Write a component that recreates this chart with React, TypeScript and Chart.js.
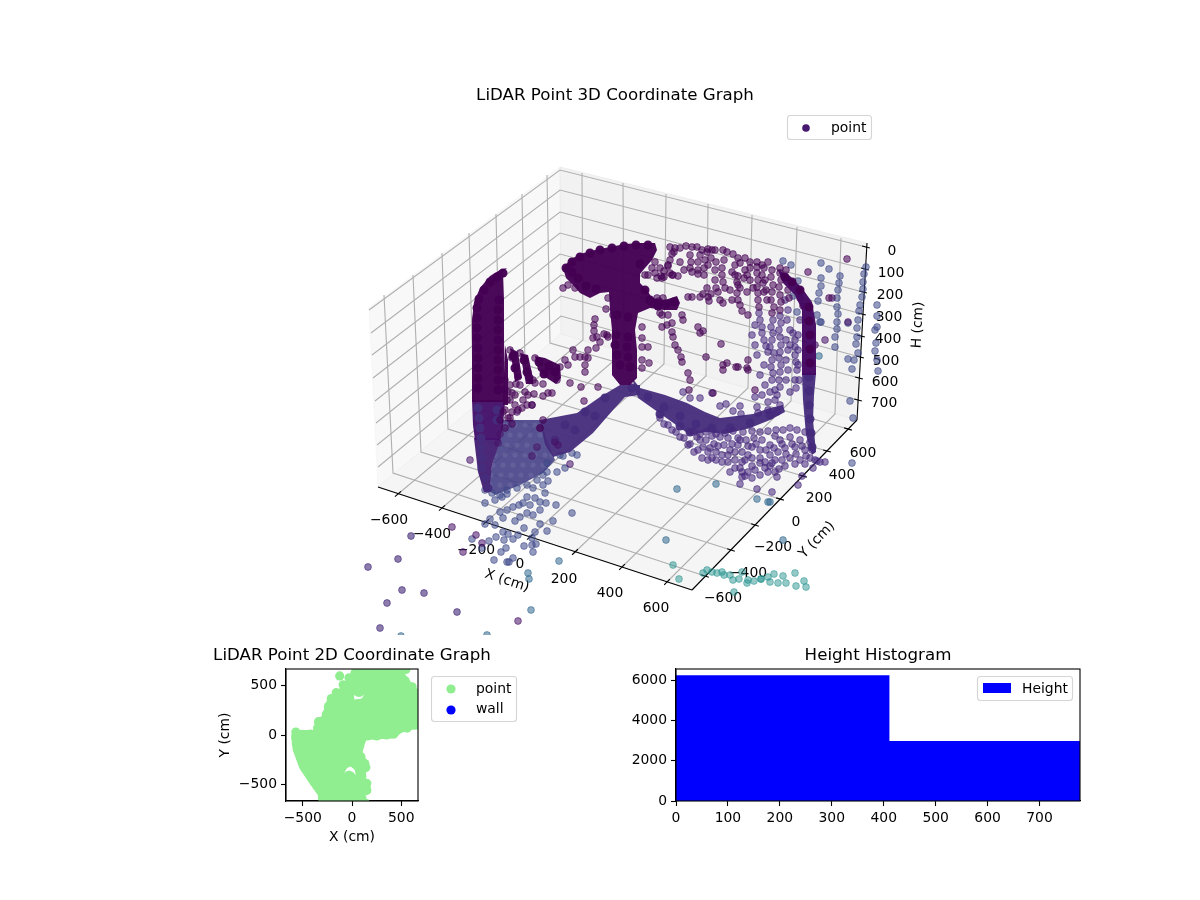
import { useEffect, useRef } from "react"
import { Chart, registerables } from "chart.js"

Chart.register(...registerables)

const FONT = "DejaVu Sans"

// 3D panel: points
const coreUpper = [
  [566, 268], [572, 262], [580, 257], [590, 253], [600, 250], [612, 248], [624, 246], [636, 245], [648, 245], [572, 272],
  [578, 278], [586, 286], [596, 289], [640, 264], [645, 290], [650, 300], [658, 306], [666, 304], [674, 302],
  [617, 315], [628, 317], [616, 335], [628, 337], [615, 345], [627, 347], [617, 355], [628, 357], [620, 365], [630, 367],
  [503, 273], [497, 277], [490, 282], [484, 290], [479, 299], [499, 300], [477, 308], [498, 310], [477, 318], [498, 320],
  [477, 328], [498, 330], [477, 338], [498, 340], [478, 348], [498, 350], [478, 358], [498, 360], [478, 368],
  [498, 370], [478, 378], [498, 380], [478, 388], [498, 390], [513, 356], [515, 368],
  [524, 360], [527, 372], [539, 362], [549, 366], [555, 372], [544, 374], [800, 290], [792, 282], [785, 277],
  [809, 307], [809, 321], [810, 335], [810, 349], [810, 363],
]
const coreLower = [
  [478, 408], [497, 410], [479, 418], [497, 420], [480, 428], [481, 438], [481, 448], [482, 458], [482, 468], [485, 478],
  [488, 488], [632, 388], [648, 397], [664, 407], [680, 416], [696, 424], [712, 428], [730, 428], [750, 423], [770, 415],
  [660, 414], [680, 426], [690, 432], [565, 425], [585, 412], [605, 398], [555, 440], [575, 430], [595, 416],
  [809, 377], [809, 391], [809, 405], [810, 419], [811, 433], [812, 447],
]
const fanDots = [
  [505, 425], [515, 425], [525, 425], [535, 425], [500, 435], [510, 435], [520, 435], [530, 435], [540, 435], [497, 445],
  [507, 445], [517, 445], [527, 445], [537, 445], [547, 445], [495, 455], [505, 455], [515, 455], [525, 455], [535, 455],
  [545, 455], [552, 455], [493, 465], [503, 465], [513, 465], [523, 465], [533, 465], [543, 465], [491, 475], [501, 475],
  [511, 475], [521, 475], [531, 475], [490, 485], [500, 485], [510, 485], [520, 485],
]
const darkSparse = [
  [510, 350], [512, 358], [518, 377], [516, 384], [520, 353], [530, 378], [533, 380], [535, 358], [560, 367], [557, 380],
  [505, 380], [505, 390], [507, 400], [510, 385], [512, 393], [510, 400], [515, 395], [520, 385], [525, 392], [523, 400],
  [528, 395], [515, 405], [518, 410], [505, 410], [508, 418], [510, 418], [595, 319], [594, 325], [594, 331], [593, 338],
  [597, 337], [604, 334], [608, 337], [600, 342], [596, 348], [588, 350], [573, 350], [565, 360], [568, 365], [575, 357],
  [580, 357], [585, 357], [588, 358], [585, 365], [585, 372], [570, 383], [581, 387], [598, 387], [584, 401], [535, 383],
  [543, 384], [534, 394], [543, 396], [548, 393], [552, 393], [532, 405], [543, 420], [540, 428], [563, 288], [568, 285],
  [575, 288], [608, 298], [606, 309], [613, 315], [607, 335], [642, 327], [642, 338], [642, 347], [648, 347], [649, 363],
  [642, 360], [642, 368], [648, 275], [655, 273], [657, 278], [662, 278], [670, 273], [673, 275], [657, 298], [652, 303],
  [659, 301], [663, 298], [660, 313], [662, 315], [668, 315], [682, 315], [683, 320], [662, 327], [667, 325], [672, 323],
  [672, 332], [673, 337], [675, 345], [678, 350], [681, 357], [682, 362], [698, 327], [703, 331], [700, 333], [721, 344],
  [706, 357], [727, 363], [723, 365], [723, 370], [736, 367], [738, 367], [748, 360], [747, 368], [748, 370], [688, 373],
  [690, 380], [689, 390], [713, 393], [755, 390], [688, 297], [692, 297], [700, 297], [708, 297], [707, 288], [703, 294],
  [711, 294], [718, 292], [720, 300], [723, 303], [732, 300], [737, 293], [738, 300], [740, 305], [742, 311], [748, 315],
  [747, 292], [753, 288], [737, 282], [738, 285], [730, 290], [670, 247], [675, 248], [672, 254], [670, 260], [668, 266],
  [664, 271], [661, 276], [664, 277], [672, 275], [668, 265], [674, 252], [686, 246], [692, 247], [697, 247], [690, 255],
  [691, 262], [690, 268], [692, 272], [698, 270], [698, 262], [700, 255], [702, 250], [708, 249], [707, 252], [705, 260],
  [704, 268], [704, 275], [698, 274], [712, 250], [715, 250], [711, 258], [708, 265], [723, 250], [727, 252], [724, 260],
  [722, 268], [722, 275], [723, 282], [725, 288], [733, 254], [738, 258], [735, 265], [732, 272], [738, 276], [735, 275],
  [740, 288], [745, 258], [750, 262], [750, 268], [740, 263], [757, 262], [757, 267], [757, 273], [758, 280], [757, 287],
  [758, 293], [758, 300], [759, 307], [772, 270], [771, 277], [773, 285], [772, 292], [771, 300], [774, 307], [772, 313],
  [780, 273], [781, 280], [779, 287], [780, 295], [781, 302], [780, 310], [788, 290], [789, 298], [765, 280], [764, 268],
  [766, 290], [767, 300], [800, 298], [803, 306], [709, 301], [808, 272], [847, 259], [829, 298], [762, 265],
  [680, 248], [655, 262], [660, 268], [652, 268], [645, 275], [680, 262], [684, 270], [678, 276], [716, 262], [715, 270],
  [715, 280], [716, 288], [745, 270], [744, 278], [750, 280], [747, 275], [762, 275], [763, 283], [764, 292], [768, 262],
  [780, 268], [786, 270], [503, 412], [512, 412], [522, 408], [527, 405], [500, 420], [505, 428], [512, 424], [508, 392],
]
const midSparse = [
  [759, 313], [760, 320], [762, 327], [762, 333], [764, 340], [766, 346], [773, 320], [771, 327], [773, 333], [772, 340],
  [770, 347], [774, 353], [772, 360], [771, 367], [773, 373], [772, 380], [780, 316], [781, 323], [779, 330], [780, 337],
  [781, 345], [780, 352], [779, 358], [781, 365], [780, 372], [779, 380], [780, 387], [793, 333], [795, 340], [795, 347],
  [795, 355], [796, 362], [797, 370], [795, 380], [796, 388], [712, 393], [690, 398], [700, 398], [720, 406], [726, 404],
  [740, 406], [755, 397], [733, 411], [741, 414], [757, 407], [768, 402], [775, 400], [780, 405], [777, 412], [768, 410],
  [777, 395], [683, 392], [758, 413], [697, 437], [703, 447], [708, 452], [716, 452], [706, 440], [714, 444], [720, 437],
  [725, 433], [724, 445], [722, 455], [730, 450], [738, 445], [728, 462], [735, 460], [722, 462], [745, 460], [740, 468],
  [748, 472], [755, 470], [760, 463], [748, 455], [752, 447], [760, 450], [770, 455], [770, 445], [762, 440], [775, 436],
  [783, 430], [790, 428], [797, 430], [805, 432], [780, 440], [790, 437], [800, 440], [810, 442], [785, 448], [795, 447],
  [805, 450], [790, 458], [800, 460], [810, 458], [815, 460], [820, 462], [782, 460], [772, 463], [765, 468], [760, 475],
  [752, 478], [742, 472], [768, 472], [733, 431], [743, 432], [752, 431], [760, 432], [768, 431], [776, 430], [742, 477],
  [740, 484], [757, 489], [772, 492], [777, 477], [779, 469], [798, 485], [802, 476], [813, 468], [817, 461], [825, 462],
  [738, 438], [746, 440], [754, 438], [712, 436], [700, 440], [694, 432], [735, 452], [742, 452], [778, 452],
  [660, 418], [668, 425], [676, 432], [684, 438], [690, 444], [698, 450], [664, 424], [672, 430], [680, 437], [688, 445],
  [694, 452], [702, 458], [708, 460], [712, 458], [716, 460], [706, 432], [716, 434], [728, 438], [732, 444], [740, 440],
  [748, 446], [756, 444], [766, 450], [774, 448], [782, 444], [792, 444], [802, 446], [812, 450], [775, 460], [786, 454],
  [796, 454], [806, 456], [735, 468], [730, 472], [745, 476], [752, 466], [760, 458], [765, 462], [770, 466], [775, 472],
  [785, 466], [795, 464], [805, 464], [742, 462], [752, 458], [728, 455], [718, 446], [710, 448], [700, 434], [785, 300],
  [788, 310], [787, 320], [790, 330], [786, 340], [788, 350], [786, 360], [788, 370], [786, 380], [790, 392], [770, 392],
  [775, 390], [762, 395], [765, 385], [760, 375], [764, 365], [757, 355], [755, 345], [752, 335], [755, 325], [768, 352],
  [790, 345], [798, 335], [800, 320], [798, 350], [798, 365], [799, 380],
]
const paleSparse = [
  [783, 261], [791, 265], [821, 263], [829, 269], [821, 278], [840, 276], [798, 281], [821, 286], [839, 283], [819, 293],
  [838, 290], [837, 298], [818, 301], [837, 307], [838, 314], [837, 322], [837, 329], [835, 337], [835, 347], [817, 315],
  [820, 322], [793, 296], [797, 312], [821, 322], [848, 323], [866, 267], [864, 274], [863, 282], [863, 289], [862, 297],
  [860, 305], [859, 311], [858, 320], [857, 328], [857, 337], [856, 344], [858, 353], [854, 360], [848, 359], [852, 369],
  [877, 327], [877, 305], [877, 316], [875, 330], [876, 343], [875, 351], [877, 360], [878, 371], [850, 401], [853, 418],
  [852, 463], [485, 503], [495, 500], [502, 497], [507, 494], [513, 507], [519, 505], [527, 497], [523, 503], [533, 488],
  [543, 485], [545, 493], [535, 498], [540, 502], [546, 503], [556, 505], [548, 481], [572, 513], [553, 521], [500, 512],
  [507, 510], [520, 517], [530, 505], [533, 515], [540, 510], [527, 513], [490, 519], [485, 524], [495, 525], [503, 518],
  [515, 521], [524, 528], [540, 524], [547, 531], [503, 532], [496, 537], [508, 534], [518, 535], [535, 532], [472, 539],
  [489, 541], [532, 538], [536, 544], [504, 540], [513, 539], [482, 548], [501, 552], [506, 548], [524, 546], [532, 545],
  [533, 552], [494, 560], [507, 562], [509, 562], [513, 558], [560, 455], [563, 456], [572, 453], [577, 455], [557, 472],
  [565, 468], [547, 472], [547, 463], [543, 475], [537, 480], [527, 485], [517, 488], [507, 490], [500, 495], [492, 493],
  [485, 490],
]
const lowDark = [
  [470, 460], [500, 434], [498, 443], [540, 428], [532, 405], [517, 412], [532, 456], [537, 447], [555, 442], [558, 445],
  [570, 464], [452, 527], [476, 535], [482, 543], [463, 552], [518, 621], [832, 298], [848, 322], [825, 340], [815, 345],
]
const frontPurple = [
  [411, 536], [398, 559], [368, 567], [402, 590], [424, 593], [387, 603], [457, 612], [380, 628],
]
const blueSparse = [
  [677, 489], [716, 484], [757, 499], [768, 502], [770, 502], [783, 540], [666, 540], [559, 561], [528, 573], [529, 579],
  [531, 610], [487, 635], [401, 636], [819, 356],
]
const tealSparse = [
  [673, 565], [679, 579], [703, 573], [707, 570], [712, 572], [717, 573], [722, 572], [724, 575], [730, 575], [733, 580],
  [739, 579], [742, 572], [747, 583], [748, 580], [754, 581], [761, 579], [761, 579], [768, 577], [770, 582], [774, 574],
  [778, 583], [783, 576], [786, 583], [795, 573], [796, 586], [804, 581], [806, 587], [734, 592],
]

// where the points pile up into one solid body: outlines
const blobOutline = [
  [563, 268], [570, 260], [580, 254], [595, 250], [610, 247], [625, 244], [640, 243], [655, 243], [657, 250], [652, 260],
  [645, 268], [640, 274], [640, 283], [647, 290], [652, 298], [665, 300], [677, 296], [680, 303], [677, 310], [664, 310],
  [650, 308], [638, 313], [635, 330], [637, 350], [637, 378], [630, 385], [620, 385], [612, 375], [612, 355], [612, 330],
  [610, 310], [609, 292], [600, 293], [590, 298], [580, 293], [573, 285], [566, 278],
]
const wallUpperOutline = [
  [507, 268], [500, 270], [490, 276], [480, 288], [474, 302], [472, 320], [472, 402], [505, 402], [504, 340], [504, 300], [503, 272],
]
const wallMiddleOutline = [[472, 400], [505, 400], [503, 425], [500, 440], [475, 440], [473, 425]]
const wallLowerOutline = [[474, 438], [501, 438], [497, 450], [492, 465], [489, 492], [484, 492], [478, 472]]
const fingerA = [[505, 345], [508, 360], [508, 405], [503, 405]]
const fingerB = [[510, 348], [518, 352], [522, 378], [515, 382]]
const fingerC = [[520, 353], [528, 355], [533, 378], [533, 384], [526, 384]]
const fingerD = [[535, 356], [545, 358], [560, 365], [561, 378], [556, 384], [545, 377], [538, 370]]
const bandLeftOutline = [
  [540, 420], [577, 413], [600, 397], [620, 385], [640, 385], [640, 395], [625, 397], [613, 410], [593, 433], [570, 452], [553, 457], [545, 445],
]
const bandRightOutline = [
  [632, 378], [640, 388], [665, 395], [687, 403], [705, 412], [720, 418], [753, 414], [770, 408], [783, 405], [785, 412],
  [770, 420], [750, 428], [725, 434], [705, 432], [690, 435], [672, 422], [655, 410], [638, 398],
]
const rightWallUpper = [
  [778, 270], [790, 276], [802, 288], [812, 302], [816, 325], [816, 375], [802, 375], [802, 310], [795, 295], [783, 283],
]
const rightWallLower = [[802, 373], [816, 373], [814, 395], [813, 420], [816, 452], [812, 455], [806, 435], [803, 400]]
const fanOutline = [
  [503, 420], [540, 420], [547, 440], [555, 460], [543, 473], [520, 485], [495, 495], [488, 490], [492, 465], [498, 445],
]

// 3D frame
const leftPane = [[369, 308], [560, 167], [561, 334], [378, 487]]
const backPane = [[560, 167], [867, 243], [857, 420], [561, 334]]
const floorPane = [[378, 487], [561, 334], [857, 420], [692, 590]]
const xAxisEnds = [[378, 487], [692, 590]]
const yAxisEnds = [[692, 590], [857, 420]]
const hAxisEnds = [[857, 420], [867, 243]]

const xFront = [[398, 494], [442, 508], [486, 522], [530, 537], [575, 552], [622, 567], [667, 582]]
const xBack = [[583, 340], [624, 352], [664, 364], [706, 376], [748, 388], [791, 401], [835, 414]]
const xTop = [[582, 173], [623, 183], [666, 194], [708, 204], [752, 215], [797, 227], [841, 238]]
const yFront = [[705, 576], [731, 550], [755, 525], [780, 499], [803, 476], [827, 451], [848, 429]]
const yBack = [[393, 473], [421, 452], [448, 429], [474, 408], [500, 386], [525, 365], [550, 343]]
const yTop = [[384, 295], [413, 275], [442, 253], [469, 233], [496, 214], [522, 194], [547, 175]]
const hLeft = [[369, 310], [371, 333], [372, 355], [373, 378], [375, 401], [376, 423], [377, 445], [378, 467]]
const hBack = [[560, 170], [560, 190], [560, 212], [560, 233], [560, 254], [561, 275], [561, 296], [561, 316]]
const hRight = [[866, 247], [865, 269], [863, 292], [862, 314], [861, 336], [860, 357], [859, 378], [858, 400]]

const xLabels3d = ["−600", "−400", "−200", "0", "200", "400", "600"]
const xLabelPos = [[389, 520], [432, 534], [476, 550], [520, 564], [564, 579], [610, 593], [656, 608]]
const yLabels3d = ["−600", "−400", "−200", "0", "200", "400", "600"]
const yLabelPos = [[723, 598], [748, 573], [773, 547], [796, 522], [819, 498], [842, 475], [863, 453]]
const hLabels3d = ["0", "100", "200", "300", "400", "500", "600", "700"]
const hLabelPos = [[892, 251], [891, 273], [890, 295], [889, 317], [888, 339], [886, 361], [885, 382], [884, 403]]

// 2D panel, cm; the outline runs into both white gaps and back
const planeOutline = [
  [-618, 0], [-602, -152], [-534, -338], [-433, -490],
  [-78, -385], [-50, -335], [-15, -320], [25, -350], [40, -405], [10, -375], [-25, -360], [-60, -370], [-78, -385],
  [-433, -490], [-348, -608], [-338, -680], [170, -680], [176, -659], [91, -618], [150, -612], [193, -580], [190, -524], [125, -422],
  [176, -321], [108, -169], [142, -51], [446, -34], [497, 24], [666, 68], [680, 68], [680, 456], [666, 456], [581, 558],
  [497, 680], [74, 680], [-44, 574], [-128, 473],
  [20, 405], [60, 385], [100, 390], [125, 410], [100, 370], [60, 365], [25, 360], [20, 405],
  [-128, 473], [-247, 372], [-280, 287], [-297, 203], [-382, 135], [-365, 50], [-585, 50],
]
const planeEdge = [
  [-125, 600], [547, 665], [-570, 30], [-570, -30], [-565, -90], [-550, -150], [-520, -230], [-480, -310], [-430, -400], [-380, -480],
  [-320, -560], [-300, -640], [-230, -650], [-420, 10], [-350, 70], [-340, 135], [-260, 210], [-240, 290], [-210, 370], [-160, 430],
  [-90, 510], [-30, 580], [30, 630], [100, 630], [200, 640], [300, 640], [400, 640], [470, 640], [540, 550], [610, 490],
  [640, 430], [640, 100], [560, 70], [480, 60], [420, 10], [350, 0], [250, -10], [160, -10], [100, -40], [70, -120],
  [90, -220], [130, -290], [140, -330], [100, -420], [150, -490], [150, -560], [100, -640],
]
const planeTicks = [-500, 0, 500]
const planeLimits = [-670, 670]
const planeLegend = ["point", "wall"]

// Height histogram
const heightEdges = [0, 411, 778]
const heightCounts = [6263, 2990]
const heightXTicks = [0, 100, 200, 300, 400, 500, 600, 700]
const heightYTicks = [0, 2000, 4000, 6000]
const heightYMax = 6576

const toXY = (list: number[][]) => list.map(([x, y]) => ({ x, y }))
const label = (v: number) => (v < 0 ? `−${-v}` : `${v}`)

const cloud = (list: number[][], color: string, radius = 3.4, rim = 1) => ({
  data: toXY(list),
  backgroundColor: color,
  borderColor: color,
  borderWidth: rim,
  pointRadius: radius,
})

const body = (list: number[][], color: string) => ({
  data: toXY(list),
  showLine: true,
  fill: "shape",
  backgroundColor: color,
  borderWidth: 0,
  pointRadius: 0,
})

// panes, grid, axes and text of the 3D box
const frame3d = {
  id: "frame3d",
  beforeDatasetsDraw(chart: any) {
    const { ctx, scales } = chart
    const at = (p: number[]) => [scales.x.getPixelForValue(p[0]), scales.y.getPixelForValue(p[1])]
    const path = (pts: number[][]) => {
      ctx.beginPath()
      pts.forEach((p, i) => {
        const [a, b] = at(p)
        if (i === 0) ctx.moveTo(a, b)
        else ctx.lineTo(a, b)
      })
    }
    ctx.save()
    ;[
      [leftPane, "rgba(242,242,242,0.5)"],
      [backPane, "rgba(230,230,230,0.5)"],
      [floorPane, "rgba(236,236,236,0.5)"],
    ].forEach(([pane, color]: any) => {
      path(pane)
      ctx.closePath()
      ctx.fillStyle = color
      ctx.strokeStyle = color
      ctx.lineWidth = 1
      ctx.fill()
      ctx.stroke()
    })

    ctx.strokeStyle = "#b0b0b0"
    ctx.lineWidth = 1.1
    xFront.forEach((p, i) => {
      path([p, xBack[i], xTop[i]])
      ctx.stroke()
    })
    yFront.forEach((p, i) => {
      path([p, yBack[i], yTop[i]])
      ctx.stroke()
    })
    hLeft.forEach((p, i) => {
      path([p, hBack[i], hRight[i]])
      ctx.stroke()
    })

    // axis lines and ticks
    ctx.strokeStyle = "#000"
    ;[xAxisEnds, yAxisEnds, hAxisEnds].forEach((ends) => {
      path(ends)
      ctx.stroke()
    })
    const tick = (p: number[], from: number[], size: number) => {
      const dx = p[0] - from[0]
      const dy = p[1] - from[1]
      const len = Math.hypot(dx, dy)
      path([
        [p[0] - (dx / len) * size, p[1] - (dy / len) * size],
        [p[0] + (dx / len) * size, p[1] + (dy / len) * size],
      ])
      ctx.stroke()
    }
    xFront.forEach((p, i) => tick(p, xBack[i], 4))
    yFront.forEach((p, i) => tick(p, yBack[i], 4))
    hRight.forEach((p, i) => tick(p, hBack[i], 4))

    ctx.fillStyle = "#000"
    ctx.textAlign = "center"
    ctx.textBaseline = "middle"
    ctx.font = `13.9px "${FONT}"`
    const put = (names: string[], pos: number[][]) =>
      names.forEach((t, i) => {
        const [a, b] = at(pos[i])
        ctx.fillText(t, a, b)
      })
    put(xLabels3d, xLabelPos)
    put(yLabels3d, yLabelPos)
    put(hLabels3d, hLabelPos)

    const turned = (t: string, p: number[], deg: number) => {
      const [a, b] = at(p)
      ctx.save()
      ctx.translate(a, b)
      ctx.rotate((deg * Math.PI) / 180)
      ctx.fillText(t, 0, 0)
      ctx.restore()
    }
    turned("X (cm)", [507, 581], 18)
    turned("Y (cm)", [817, 540], -46)
    turned("H (cm)", [918, 325], -87)

    ctx.font = `16.67px "${FONT}"`
    ctx.fillText("LiDAR Point 3D Coordinate Graph", 615, 96)
    ctx.restore()
  },
}

// matplotlib style legend box
const drawBox = (ctx: any, x: number, y: number, w: number, h: number) => {
  ctx.beginPath()
  ctx.roundRect(x, y, w, h, 3)
  ctx.fillStyle = "rgba(255,255,255,0.8)"
  ctx.strokeStyle = "#d5d5d5"
  ctx.lineWidth = 1.1
  ctx.fill()
  ctx.stroke()
}

const legendText = (ctx: any, t: string, x: number, y: number) => {
  ctx.fillStyle = "#000"
  ctx.font = `13.9px "${FONT}"`
  ctx.textAlign = "left"
  ctx.textBaseline = "middle"
  ctx.fillText(t, x, y + 1)
}

const dot = (ctx: any, x: number, y: number, r: number, color: string) => {
  ctx.beginPath()
  ctx.arc(x, y, r, 0, Math.PI * 2)
  ctx.fillStyle = color
  ctx.fill()
}

const legend3d = {
  id: "legend3d",
  afterDatasetsDraw(chart: any) {
    const { ctx } = chart
    ctx.save()
    drawBox(ctx, 787.5, 115.5, 84, 24)
    dot(ctx, 806, 128, 3.8, "#46186e")
    legendText(ctx, "point", 831, 127)
    ctx.restore()
  },
}

// spines on all four sides, and the title over the plot
const panelFrame = (title: string) => ({
  id: "panelFrame",
  afterDatasetsDraw(chart: any) {
    const { ctx, chartArea: a } = chart
    ctx.save()
    ctx.strokeStyle = "#000"
    ctx.lineWidth = 1.1
    ctx.strokeRect(a.left, a.top, a.right - a.left, a.bottom - a.top)
    ctx.fillStyle = "#000"
    ctx.font = `16.67px "${FONT}"`
    ctx.textAlign = "center"
    ctx.textBaseline = "middle"
    ctx.fillText(title, (a.left + a.right) / 2, a.top - 13)
    ctx.restore()
  },
})

const legend2d = {
  id: "legend2d",
  afterDatasetsDraw(chart: any) {
    const { ctx, canvas } = chart
    const ox = canvas.offsetLeft
    const oy = canvas.offsetTop
    ctx.save()
    drawBox(ctx, 431.5 - ox, 676.5 - oy, 85, 45)
    dot(ctx, 451 - ox, 689 - oy, 4.6, "#90ee90")
    dot(ctx, 451 - ox, 710 - oy, 4.6, "#0000ff")
    legendText(ctx, planeLegend[0], 476 - ox, 688 - oy)
    legendText(ctx, planeLegend[1], 476 - ox, 708 - oy)
    ctx.restore()
  },
}

const legendHist = {
  id: "legendHist",
  afterDatasetsDraw(chart: any) {
    const { ctx, canvas } = chart
    const ox = canvas.offsetLeft
    const oy = canvas.offsetTop
    ctx.save()
    drawBox(ctx, 977.5 - ox, 676.5 - oy, 95, 24)
    ctx.fillStyle = "#0000ff"
    ctx.fillRect(983 - ox, 683 - oy, 28, 10)
    legendText(ctx, "Height", 1022 - ox, 688 - oy)
    ctx.restore()
  },
}

const axis = (values: number[], min: number, max: number, size: number, title?: string) => ({
  type: "linear" as const,
  min,
  max,
  afterBuildTicks: (s: any) => {
    s.ticks = values.map((value) => ({ value }))
  },
  afterFit: (s: any) => {
    if (s.isHorizontal()) s.height = size
    else s.width = size
  },
  ticks: {
    autoSkip: false,
    maxRotation: 0,
    padding: 4,
    color: "#000",
    font: { family: FONT, size: 13.9 },
    callback: (v: any) => label(v),
  },
  grid: { drawOnChartArea: false, tickLength: 5, tickColor: "#000", tickWidth: 1.1 },
  border: { color: "#000", width: 1.1 },
  title: title
    ? { display: true, text: title, color: "#000", padding: 0, font: { family: FONT, size: 13.9 } }
    : { display: false },
})

export default function App() {
  const ref3d = useRef<HTMLCanvasElement>(null)
  const ref2d = useRef<HTMLCanvasElement>(null)
  const refHist = useRef<HTMLCanvasElement>(null)

  useEffect(() => {
    const charts: Chart[] = []
    const deep = "rgba(68,1,84,0.97)"
    const mid = "rgba(70,44,124,0.95)"

    charts.push(
      new Chart(ref3d.current!, {
        type: "scatter",
        data: {
          datasets: [
            cloud(coreUpper, deep, 4.5, 0),
            body(blobOutline, deep),
            body(wallUpperOutline, deep),
            body(fingerA, deep),
            body(fingerB, deep),
            body(fingerC, deep),
            body(fingerD, deep),
            body(rightWallUpper, "rgba(68,8,98,0.97)"),
            cloud(darkSparse, "rgba(68,1,84,0.56)"),
            cloud(lowDark, "rgba(72,20,103,0.56)"),
            cloud(midSparse, "rgba(70,40,125,0.56)"),
            cloud(coreLower, mid, 4.5, 0),
            body(wallMiddleOutline, "rgba(70,18,108,0.97)"),
            body(wallLowerOutline, "rgba(70,34,116,0.97)"),
            body(bandLeftOutline, mid),
            body(bandRightOutline, mid),
            body(rightWallLower, mid),
            cloud(frontPurple, "rgba(71,45,123,0.62)"),
            cloud(paleSparse, "rgba(62,73,137,0.55)"),
            cloud(fanDots, "rgba(125,125,180,0.3)", 2.6, 0),
            body(fanOutline, "rgba(66,60,132,0.88)"),
            cloud(blueSparse, "rgba(49,104,142,0.55)"),
            cloud(tealSparse, "rgba(33,145,140,0.48)"),
          ],
        },
        options: {
          responsive: false,
          animation: false,
          layout: { autoPadding: false, padding: 0 },
          scales: {
            x: { type: "linear", min: 0, max: 1200, display: false },
            y: { type: "linear", min: 0, max: 635, reverse: true, display: false },
          },
          plugins: { legend: { display: false }, tooltip: { enabled: false } },
        },
        plugins: [frame3d, legend3d],
      } as any),
    )

    charts.push(
      new Chart(ref2d.current!, {
        type: "scatter",
        data: {
          datasets: [body(planeOutline, "#90ee90"), cloud(planeEdge, "#90ee90", 4.6, 0)],
        },
        options: {
          responsive: false,
          animation: false,
          layout: { autoPadding: false, padding: { left: 45, right: 114, top: 29, bottom: 14 } },
          scales: {
            x: axis(planeTicks, planeLimits[0], planeLimits[1], 45, "X (cm)"),
            y: axis(planeTicks, planeLimits[0], planeLimits[1], 69, "Y (cm)"),
          },
          plugins: { legend: { display: false }, tooltip: { enabled: false } },
        },
        plugins: [panelFrame("LiDAR Point 2D Coordinate Graph"), legend2d],
      } as any),
    )

    charts.push(
      new Chart(refHist.current!, {
        type: "scatter",
        data: {
          datasets: [
            {
              data: heightEdges.map((x, i) => ({ x, y: heightCounts[Math.min(i, heightCounts.length - 1)] })),
              showLine: true,
              stepped: "before",
              fill: "origin",
              backgroundColor: "#0000ff",
              borderWidth: 0,
              pointRadius: 0,
            },
          ],
        },
        options: {
          responsive: false,
          animation: false,
          layout: { autoPadding: false, padding: { left: 0, right: 56, top: 29, bottom: 14 } },
          scales: {
            x: axis(heightXTicks, 0, heightEdges[2], 45),
            y: axis(heightYTicks, 0, heightYMax, 56),
          },
          plugins: { legend: { display: false }, tooltip: { enabled: false } },
        },
        plugins: [panelFrame("Height Histogram"), legendHist],
      } as any),
    )

    return () => charts.forEach((c) => c.destroy())
  }, [])

  return (
    <div style={{ position: "absolute", left: 0, top: 0, width: 1200, height: 900, background: "#fff" }}>
      <canvas ref={ref3d} width={1200} height={635} style={{ position: "absolute", left: 0, top: 0 }} />
      <canvas ref={ref2d} width={360} height={220} style={{ position: "absolute", left: 172, top: 640 }} />
      <canvas ref={refHist} width={516} height={220} style={{ position: "absolute", left: 620, top: 640 }} />
    </div>
  )
}
